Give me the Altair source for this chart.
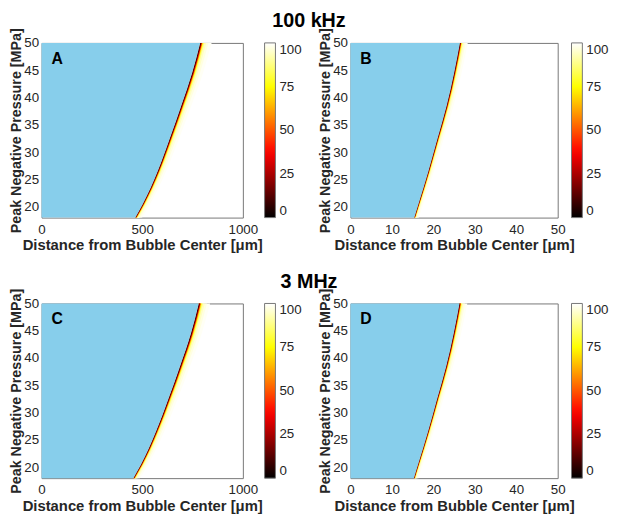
import altair as alt
import pandas as pd

# ---- data ----
pressure = [18, 20.5, 26.5, 32.5, 38.5, 44.5, 50]          # MPa
edge_a = [466, 503, 577, 637, 694, 748, 788]                # um, 100 kHz, panel A
edge_b = [15.4, 16.4, 18.8, 21.0, 23.2, 25.0, 26.4]         # um, 100 kHz, panel B
edge_c = [456, 494, 568, 630, 688, 742, 781]                # um, 3 MHz, panel C
edge_d = [15.3, 16.3, 18.7, 20.9, 23.1, 24.9, 26.3]         # um, 3 MHz, panel D

# transition just outside the edge: distance ratio (r / r_edge) and value (%)
band_ratio = [1.007, 1.011, 1.015, 1.02, 1.027, 1.038, 1.052, 1.072]
band_value = [10, 35, 60, 78, 88, 94, 97, 99]

# "hot" colour map, evenly spaced over 0..100
hot_colors = ["#000000", "#550000", "#aa0000", "#ff0000", "#ff5500",
              "#ffaa00", "#ffff00", "#ffff80", "#ffffff"]
cbar_ticks = [0, 25, 50, 75, 100]
y_ticks = [20, 25, 30, 35, 40, 45, 50]
x_ticks_big = [0, 500, 1000]
x_ticks_small = [0, 10, 20, 30, 40, 50]
row_titles = ["100 kHz", "3 MHz"]
letters = ["A", "B", "C", "D"]

FONT = "Liberation Sans"
AX = "#262626"
BLUE = "#87ceeb"
PH = 177


def panel(edge, xmax, xticks, letter, width, legend_offset):
    xenc = alt.X("x:Q", scale=alt.Scale(domain=[0, xmax], nice=False),
                 axis=alt.Axis(values=xticks, format="d",
                               title="Distance from Bubble Center [μm]"))
    yenc = alt.Y("p:Q", scale=alt.Scale(domain=[18, 50], nice=False, zero=False),
                 axis=alt.Axis(values=y_ticks, format="d",
                               title="Peak Negative Pressure [MPa]"))
    cenc = alt.Color("v:Q",
                     scale=alt.Scale(domain=[0, 100], range=hot_colors, nice=False, zero=False,
                                     interpolate="rgb"),
                     legend=alt.Legend(title=None, values=cbar_ticks, orient="right",
                                       direction="vertical", gradientLength=PH,
                                       gradientThickness=11, offset=legend_offset,
                                       gradientStrokeColor="#777", gradientStrokeWidth=1,
                                       labelOffset=4, labelBaseline="middle"))
    layers = []
    for r, v in sorted(zip(band_ratio, band_value), reverse=True):
        df = pd.DataFrame({"p": pressure, "x": edge,
                           "x2": [e * r for e in edge], "v": [v] * len(edge)})
        layers.append(
            alt.Chart(df).mark_area(orient="horizontal", interpolate="monotone")
            .encode(y=yenc, x=xenc, x2="x2:Q", color=cenc)
        )
    blue = pd.DataFrame({"p": pressure, "x": [0] * len(edge), "x2": edge})
    layers.append(
        alt.Chart(blue).mark_area(orient="horizontal", interpolate="monotone", color=BLUE)
        .encode(y=yenc, x=xenc, x2="x2:Q")
    )
    txt = alt.Chart(pd.DataFrame({"t": [letter]})).mark_text(
        align="left", baseline="top", fontSize=16, fontWeight="bold", font=FONT, color="black"
    ).encode(x=alt.value(10), y=alt.value(8), text="t:N")
    layers.append(txt)
    return alt.layer(*layers).properties(width=width, height=PH)


title_kw = dict(fontSize=20, fontWeight="bold", font=FONT, color="black", anchor="middle", offset=-4)

row1 = alt.hconcat(
    panel(edge_a, 1000, x_ticks_big, letters[0], 204, 22),
    panel(edge_b, 50, x_ticks_small, letters[1], 210, 14),
    spacing=14,
).resolve_scale(color="independent").properties(title=alt.TitleParams(row_titles[0], **title_kw))

row2 = alt.hconcat(
    panel(edge_c, 1000, x_ticks_big, letters[2], 204, 22),
    panel(edge_d, 50, x_ticks_small, letters[3], 210, 14),
    spacing=14,
).resolve_scale(color="independent").properties(title=alt.TitleParams(row_titles[1], **title_kw))

chart = (
    alt.vconcat(row1, row2, spacing=19)
    .resolve_scale(color="independent")
    .properties(padding=0, background="white")
    .configure_view(stroke="#777", strokeWidth=1)
    .configure_axis(labelFont=FONT, labelFontSize=13.5, labelColor=AX,
                    titleFont=FONT, titleFontWeight="bold", titleColor=AX,
                    ticks=False, domain=False, grid=False, labelFlush=False)
    .configure_axisX(labelPadding=5, titlePadding=2, titleFontSize=15)
    .configure_axisY(labelPadding=3, titlePadding=0, titleFontSize=14.5)
    .configure_legend(labelFont=FONT, labelFontSize=13.5, labelColor=AX)
)

chart.save("out.html", embed_options={"renderer": "svg", "actions": False})
